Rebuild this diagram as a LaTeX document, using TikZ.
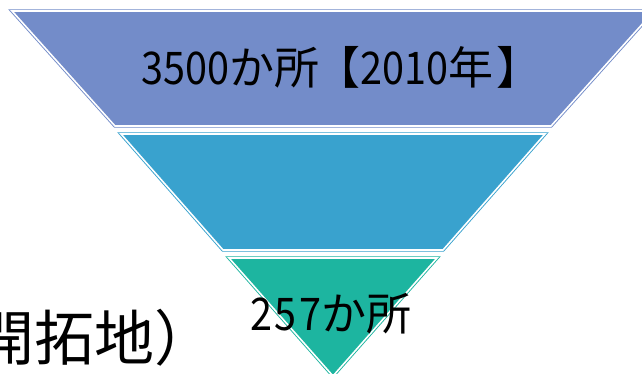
\documentclass[tikz,border=0pt]{standalone}
\usepackage{fontspec}
\setmainfont{Noto Sans CJK JP}
\newfontfamily\digitfont[FakeStretch=0.88]{Noto Sans CJK JP}
\definecolor{bandA}{HTML}{738CC9}
\definecolor{bandB}{HTML}{39A2CE}
\definecolor{bandC}{HTML}{1DB5A0}
\tikzset{
  band/.style={fill=#1, draw=#1, line width=0.9pt, double=white, double distance=1.6pt, line join=miter},
  lbl/.style={inner sep=0pt, font=\fontsize{45}{52}\selectfont, text=black},
}
\newcommand{\dg}[1]{{\digitfont #1}}
\begin{document}
\begin{tikzpicture}[x=1pt,y=-1pt]
\useasboundingbox (0,0) rectangle (642,373);
\clip (0,0) rectangle (642,373);
\fill[white] (0,0) rectangle (642,373);
% band 1
\draw[band=bandA] (12,11) -- (654,11) -- (551,126) -- (115,126) -- cycle;
% band 2
\draw[band=bandB] (121,134) -- (545,134) -- (443,250) -- (223,250) -- cycle;
% band 3
\draw[band=bandC] (229,258) -- (437,258) -- (333,376) -- cycle;
\node[lbl, anchor=base west] (t1) at (141,84) {\dg{3500}か所\kern-4pt【\dg{2010}年\kern4pt】};
\node[lbl, anchor=base west] (t3) at (250,330) {\dg{2}\kern2.5pt\dg{5}\kern2.5pt\dg{7}か所};
\node[inner sep=0pt, anchor=base west, font=\fontsize{60}{68}\selectfont] (side) at (-26,360) {開拓地）};
\end{tikzpicture}
\end{document}
